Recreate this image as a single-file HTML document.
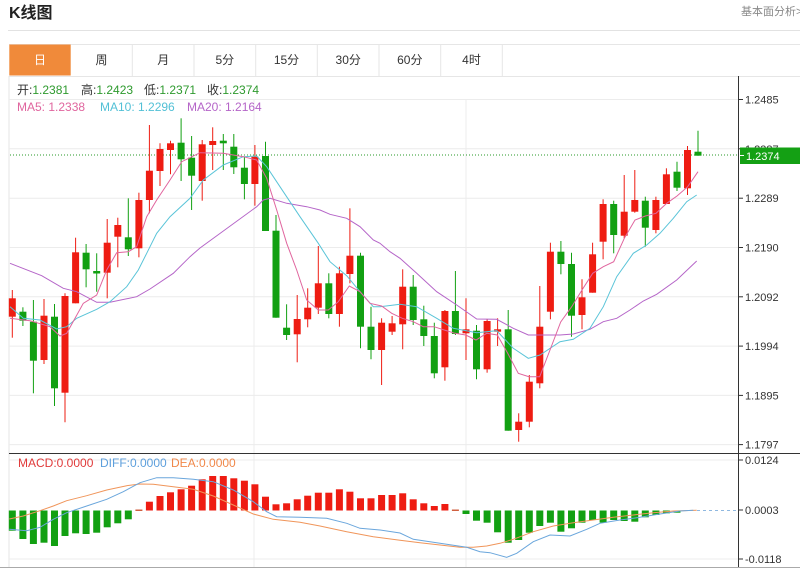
<!DOCTYPE html>
<html>
<head>
<meta charset="utf-8">
<style>
html,body{margin:0;padding:0;background:#fff;}
body{width:800px;height:569px;overflow:hidden;position:relative;font-family:"Liberation Sans","Noto Sans CJK SC",sans-serif;}
svg{position:absolute;left:0;top:0;}
</style>
</head>
<body>
<svg width="800" height="569" viewBox="0 0 800 569" xmlns="http://www.w3.org/2000/svg" font-family="Liberation Sans, Noto Sans CJK SC, sans-serif">
<!-- header -->
<text x="9" y="18" font-size="16" font-weight="bold" fill="#222">K线图</text>
<text x="741" y="15" font-size="11" fill="#888">基本面分析&gt;</text>
<line x1="8" y1="30.5" x2="800" y2="30.5" stroke="#e2e2e2" stroke-width="1"/>
<!-- tabs -->
<line x1="9" y1="44.5" x2="800" y2="44.5" stroke="#e6e6e6"/>
<line x1="9" y1="76.5" x2="800" y2="76.5" stroke="#e6e6e6"/>
<rect x="9.3" y="44.5" width="61.4" height="31" fill="#f08a3a"/>
<g stroke="#e6e6e6">
<line x1="132.3" y1="44.5" x2="132.3" y2="76"/>
<line x1="194" y1="44.5" x2="194" y2="76"/>
<line x1="255.7" y1="44.5" x2="255.7" y2="76"/>
<line x1="317.3" y1="44.5" x2="317.3" y2="76"/>
<line x1="379" y1="44.5" x2="379" y2="76"/>
<line x1="440.7" y1="44.5" x2="440.7" y2="76"/>
<line x1="502.3" y1="44.5" x2="502.3" y2="76"/>
</g>
<g font-size="12" fill="#333" text-anchor="middle">
<text x="40" y="64" fill="#fff">日</text>
<text x="101.5" y="64">周</text>
<text x="163.2" y="64">月</text>
<text x="224.8" y="64">5分</text>
<text x="286.5" y="64">15分</text>
<text x="348.2" y="64">30分</text>
<text x="409.8" y="64">60分</text>
<text x="471.5" y="64">4时</text>
</g>

<!-- main chart grid -->
<line x1="9" y1="76" x2="9" y2="567" stroke="#e4e4e4"/>
<g stroke="#ececec">
<line x1="9" y1="99.5" x2="738" y2="99.5"/>
<line x1="9" y1="148.8" x2="738" y2="148.8"/>
<line x1="9" y1="198.2" x2="738" y2="198.2"/>
<line x1="9" y1="247.5" x2="738" y2="247.5"/>
<line x1="9" y1="296.8" x2="738" y2="296.8"/>
<line x1="9" y1="346.1" x2="738" y2="346.1"/>
<line x1="9" y1="395.4" x2="738" y2="395.4"/>
<line x1="9" y1="444.6" x2="738" y2="444.6"/>
<line x1="9" y1="460" x2="738" y2="460"/>
<line x1="9" y1="559" x2="738" y2="559"/>
<line x1="254" y1="99" x2="254" y2="567"/>
<line x1="466" y1="99" x2="466" y2="567"/>
</g>

<!-- legend -->
<g font-size="12">
<text x="17" y="94" fill="#333">开:<tspan fill="#2e9a2e">1.2381</tspan></text>
<text x="81" y="94" fill="#333">高:<tspan fill="#2e9a2e">1.2423</tspan></text>
<text x="144" y="94" fill="#333">低:<tspan fill="#2e9a2e">1.2371</tspan></text>
<text x="207" y="94" fill="#333">收:<tspan fill="#2e9a2e">1.2374</tspan></text>
<text x="17" y="111" fill="#e0659e">MA5: 1.2338</text>
<text x="100" y="111" fill="#52c0d6">MA10: 1.2296</text>
<text x="187" y="111" fill="#b565c8">MA20: 1.2164</text>
</g>

<!-- current price dotted -->
<line x1="10" y1="155" x2="738" y2="155" stroke="#2a9a2a" stroke-width="1" stroke-dasharray="1,2"/>

<!-- candles -->
<g stroke-width="1">
<g id="c">
<!-- R = red #ee1c12, G = green #12a012 -->
<line x1="12.3" y1="290" x2="12.3" y2="337.7" stroke="#ee1c12"/><rect x="8.8" y="298.3" width="7" height="18.4" fill="#ee1c12"/>
<line x1="22.9" y1="307.3" x2="22.9" y2="326" stroke="#12a012"/><rect x="19.4" y="311.7" width="7" height="9" fill="#12a012"/>
<line x1="33.4" y1="300" x2="33.4" y2="393.3" stroke="#12a012"/><rect x="29.9" y="321.7" width="7" height="39" fill="#12a012"/>
<line x1="44" y1="299" x2="44" y2="364" stroke="#ee1c12"/><rect x="40.5" y="315.7" width="7" height="44.3" fill="#ee1c12"/>
<line x1="54.5" y1="304" x2="54.5" y2="406" stroke="#12a012"/><rect x="51" y="316.7" width="7" height="71.6" fill="#12a012"/>
<line x1="65" y1="293.3" x2="65" y2="422.3" stroke="#ee1c12"/><rect x="61.5" y="296" width="7" height="96.7" fill="#ee1c12"/>
<line x1="75.6" y1="237.7" x2="75.6" y2="303.3" stroke="#ee1c12"/><rect x="72.1" y="252.3" width="7" height="51" fill="#ee1c12"/>
<line x1="86.1" y1="244" x2="86.1" y2="287.3" stroke="#12a012"/><rect x="82.6" y="252.7" width="7" height="16.6" fill="#12a012"/>
<line x1="96.7" y1="253.3" x2="96.7" y2="291.7" stroke="#12a012"/><rect x="93.2" y="271" width="7" height="2.5" fill="#12a012"/>
<line x1="107.2" y1="219" x2="107.2" y2="298.3" stroke="#ee1c12"/><rect x="103.7" y="242.7" width="7" height="30" fill="#ee1c12"/>
<line x1="117.8" y1="217.7" x2="117.8" y2="267.3" stroke="#ee1c12"/><rect x="114.3" y="225" width="7" height="11.7" fill="#ee1c12"/>
<line x1="128.3" y1="198.3" x2="128.3" y2="256" stroke="#12a012"/><rect x="124.8" y="237.3" width="7" height="12" fill="#12a012"/>
<line x1="138.9" y1="192.7" x2="138.9" y2="257.3" stroke="#ee1c12"/><rect x="135.4" y="200" width="7" height="48.3" fill="#ee1c12"/>
<line x1="149.4" y1="125" x2="149.4" y2="213.3" stroke="#ee1c12"/><rect x="145.9" y="170.7" width="7" height="29.3" fill="#ee1c12"/>
<line x1="160" y1="143.3" x2="160" y2="186" stroke="#ee1c12"/><rect x="156.5" y="149" width="7" height="22" fill="#ee1c12"/>
<line x1="170.5" y1="140.7" x2="170.5" y2="174.3" stroke="#ee1c12"/><rect x="167" y="143.3" width="7" height="6.7" fill="#ee1c12"/>
<line x1="181.1" y1="118.3" x2="181.1" y2="181" stroke="#12a012"/><rect x="177.6" y="142.7" width="7" height="16.6" fill="#12a012"/>
<line x1="191.6" y1="136" x2="191.6" y2="210" stroke="#12a012"/><rect x="188.1" y="157.7" width="7" height="18" fill="#12a012"/>
<line x1="202.2" y1="140" x2="202.2" y2="200.7" stroke="#ee1c12"/><rect x="198.7" y="144.3" width="7" height="36.7" fill="#ee1c12"/>
<line x1="212.7" y1="127.3" x2="212.7" y2="170" stroke="#ee1c12"/><rect x="209.2" y="141" width="7" height="4" fill="#ee1c12"/>
<line x1="223.3" y1="134" x2="223.3" y2="170" stroke="#12a012"/><rect x="219.8" y="140.7" width="7" height="2.6" fill="#12a012"/>
<line x1="233.8" y1="134" x2="233.8" y2="174" stroke="#12a012"/><rect x="230.3" y="146.7" width="7" height="20.6" fill="#12a012"/>
<line x1="244.4" y1="156.7" x2="244.4" y2="199.3" stroke="#12a012"/><rect x="240.9" y="167.7" width="7" height="16.3" fill="#12a012"/>
<line x1="254.9" y1="145" x2="254.9" y2="205.7" stroke="#ee1c12"/><rect x="251.4" y="156.7" width="7" height="27.3" fill="#ee1c12"/>
<line x1="265.5" y1="141.7" x2="265.5" y2="231" stroke="#12a012"/><rect x="262" y="156" width="7" height="75" fill="#12a012"/>
<line x1="276" y1="215" x2="276" y2="317.7" stroke="#12a012"/><rect x="272.5" y="230.7" width="7" height="87" fill="#12a012"/>
<line x1="286.6" y1="304.3" x2="286.6" y2="340" stroke="#12a012"/><rect x="283.1" y="327.7" width="7" height="7.3" fill="#12a012"/>
<line x1="297.2" y1="295" x2="297.2" y2="362.3" stroke="#ee1c12"/><rect x="293.7" y="319" width="7" height="15.3" fill="#ee1c12"/>
<line x1="307.7" y1="288.3" x2="307.7" y2="327.3" stroke="#ee1c12"/><rect x="304.2" y="307.7" width="7" height="11.6" fill="#ee1c12"/>
<line x1="318.3" y1="246" x2="318.3" y2="314" stroke="#ee1c12"/><rect x="314.8" y="283.3" width="7" height="24.4" fill="#ee1c12"/>
<line x1="328.8" y1="273.3" x2="328.8" y2="318.3" stroke="#12a012"/><rect x="325.3" y="283.3" width="7" height="30.7" fill="#12a012"/>
<line x1="339.4" y1="266.7" x2="339.4" y2="326.7" stroke="#ee1c12"/><rect x="335.9" y="273.3" width="7" height="40.7" fill="#ee1c12"/>
<line x1="349.9" y1="208.3" x2="349.9" y2="283.3" stroke="#ee1c12"/><rect x="346.4" y="255.7" width="7" height="18.3" fill="#ee1c12"/>
<line x1="360.5" y1="252.7" x2="360.5" y2="348.3" stroke="#12a012"/><rect x="357" y="255.7" width="7" height="71" fill="#12a012"/>
<line x1="371" y1="306.7" x2="371" y2="359.3" stroke="#12a012"/><rect x="367.5" y="326.7" width="7" height="23.3" fill="#12a012"/>
<line x1="381.6" y1="318.3" x2="381.6" y2="385" stroke="#ee1c12"/><rect x="378.1" y="322.7" width="7" height="27.3" fill="#ee1c12"/>
<line x1="392.1" y1="316" x2="392.1" y2="335" stroke="#ee1c12"/><rect x="388.6" y="323.3" width="7" height="8.4" fill="#ee1c12"/>
<line x1="402.7" y1="269.3" x2="402.7" y2="349.3" stroke="#ee1c12"/><rect x="399.2" y="286.7" width="7" height="37.6" fill="#ee1c12"/>
<line x1="413.2" y1="275" x2="413.2" y2="325" stroke="#12a012"/><rect x="409.7" y="286.7" width="7" height="33.3" fill="#12a012"/>
<line x1="423.8" y1="305.7" x2="423.8" y2="346" stroke="#12a012"/><rect x="420.3" y="319.3" width="7" height="16.7" fill="#12a012"/>
<line x1="434.3" y1="322.7" x2="434.3" y2="378.3" stroke="#12a012"/><rect x="430.8" y="336" width="7" height="37.3" fill="#12a012"/>
<line x1="444.9" y1="310" x2="444.9" y2="380.7" stroke="#ee1c12"/><rect x="441.4" y="311" width="7" height="56.3" fill="#ee1c12"/>
<line x1="455.4" y1="271" x2="455.4" y2="335" stroke="#12a012"/><rect x="451.9" y="311" width="7" height="23" fill="#12a012"/>
<line x1="466" y1="298.3" x2="466" y2="360" stroke="#ee1c12"/><rect x="462.5" y="329.3" width="7" height="4" fill="#ee1c12"/>
<line x1="476.5" y1="325" x2="476.5" y2="379.3" stroke="#12a012"/><rect x="473" y="330.7" width="7" height="38.6" fill="#12a012"/>
<line x1="487.1" y1="319.3" x2="487.1" y2="372.7" stroke="#ee1c12"/><rect x="483.6" y="321" width="7" height="48.3" fill="#ee1c12"/>
<line x1="497.6" y1="318.3" x2="497.6" y2="346" stroke="#ee1c12"/><rect x="494.1" y="329.3" width="7" height="2.4" fill="#ee1c12"/>
<line x1="508.2" y1="310" x2="508.2" y2="430.7" stroke="#12a012"/><rect x="504.7" y="329.3" width="7" height="101.4" fill="#12a012"/>
<line x1="518.7" y1="413.3" x2="518.7" y2="441.7" stroke="#ee1c12"/><rect x="515.2" y="421.7" width="7" height="8.3" fill="#ee1c12"/>
<line x1="529.3" y1="375" x2="529.3" y2="427.3" stroke="#ee1c12"/><rect x="525.8" y="381.7" width="7" height="40" fill="#ee1c12"/>
<line x1="539.8" y1="286" x2="539.8" y2="388.3" stroke="#ee1c12"/><rect x="536.3" y="326.7" width="7" height="56.6" fill="#ee1c12"/>
<line x1="550.4" y1="242.7" x2="550.4" y2="319.3" stroke="#ee1c12"/><rect x="546.9" y="251.7" width="7" height="60" fill="#ee1c12"/>
<line x1="560.9" y1="241" x2="560.9" y2="274.3" stroke="#12a012"/><rect x="557.4" y="251.7" width="7" height="12.3" fill="#12a012"/>
<line x1="571.5" y1="252.7" x2="571.5" y2="336.7" stroke="#12a012"/><rect x="568" y="264" width="7" height="51.7" fill="#12a012"/>
<line x1="582" y1="279.3" x2="582" y2="329.3" stroke="#ee1c12"/><rect x="578.5" y="297.3" width="7" height="17.7" fill="#ee1c12"/>
<line x1="592.6" y1="242.7" x2="592.6" y2="292.7" stroke="#ee1c12"/><rect x="589.1" y="254.3" width="7" height="38.4" fill="#ee1c12"/>
<line x1="603.1" y1="199.3" x2="603.1" y2="259.3" stroke="#ee1c12"/><rect x="599.6" y="204" width="7" height="37.7" fill="#ee1c12"/>
<line x1="613.7" y1="200.7" x2="613.7" y2="253.3" stroke="#12a012"/><rect x="610.2" y="204" width="7" height="31" fill="#12a012"/>
<line x1="624.2" y1="175" x2="624.2" y2="238.3" stroke="#ee1c12"/><rect x="620.7" y="211.7" width="7" height="24" fill="#ee1c12"/>
<line x1="634.8" y1="170" x2="634.8" y2="212.7" stroke="#ee1c12"/><rect x="631.3" y="200" width="7" height="11.7" fill="#ee1c12"/>
<line x1="645.3" y1="196.7" x2="645.3" y2="246.7" stroke="#12a012"/><rect x="641.8" y="200.7" width="7" height="27" fill="#12a012"/>
<line x1="655.9" y1="196.7" x2="655.9" y2="233.3" stroke="#ee1c12"/><rect x="652.4" y="200" width="7" height="30" fill="#ee1c12"/>
<line x1="666.4" y1="168.3" x2="666.4" y2="204" stroke="#ee1c12"/><rect x="662.9" y="174.3" width="7" height="29.7" fill="#ee1c12"/>
<line x1="677" y1="161.7" x2="677" y2="191" stroke="#12a012"/><rect x="673.5" y="171.7" width="7" height="16" fill="#12a012"/>
<line x1="687.5" y1="146" x2="687.5" y2="195" stroke="#ee1c12"/><rect x="684" y="150" width="7" height="38.3" fill="#ee1c12"/>
<line x1="698" y1="130.7" x2="698" y2="155.7" stroke="#12a012"/><rect x="694.5" y="151.7" width="7" height="4" fill="#12a012"/>
</g>
</g>

<!-- MA lines -->
<polyline fill="none" stroke="#b565c8" stroke-width="1" points="10,263.3 41.7,275.7 63.3,288.3 76.7,291.7 96.7,302.3 110,302.3 136.7,296.7 150,289 173.3,273.3 190,256.7 200,248 256.7,206.7 263.3,200 270,198.3 286.7,203.3 306.7,206.7 320,210 330,214.3 346.7,218.3 360,226.7 373.3,240 380,243.3 390,251.7 400,258.3 416.7,273.3 436.7,291.7 456.7,305 476.7,319 496.7,319.3 513.3,328.3 528.3,335 540,335 560,335 573.3,334 590,329.3 603.3,321.7 616.7,318.3 630,310 643.3,301 656.7,294.3 676.7,280 696.7,261"/>
<polyline fill="none" stroke="#5ac4d8" stroke-width="1" points="10,306.7 23.3,318.3 40,320 56.7,329 66.7,326.7 76.7,318.3 96.7,309.3 110,301.7 126.7,286.7 138.3,270 146.7,253.3 156.7,233.3 170,216.7 190,198.3 203.3,180 223.3,165 243.3,156.7 256.7,156 266.7,166.7 283.3,191.7 300,216.7 318.3,243.3 330,261.7 346.7,275.7 360,291.7 373.3,306.7 380,306.7 400,304.3 416.7,306.7 436.7,318.3 453.3,328.3 476.7,332.7 496.7,330.7 513.3,348.3 528.3,358.3 540,355 560,341.7 573.3,339.3 590,328.3 603.3,306.7 616.7,276.7 633.3,253.3 646.7,245 660,233.3 673.3,218.3 686.7,201.7 696.7,195"/>
<polyline fill="none" stroke="#e0659e" stroke-width="1" points="10,318.3 30,320.7 50,326.7 60,336 66.7,333.3 83.3,303.3 96.7,295 106.7,270 116.7,252.7 128.3,251.7 136.7,246.7 146.7,216.7 156.7,200 170,180 181.7,161.7 200,152.7 223.3,153.3 243.3,156.7 256.7,160 266.7,178.3 276.7,210 286.7,243.3 296.7,270 306.7,300 318.3,310 328.3,310 338.3,301.7 349.3,286 360,291.7 370,303.3 381.6,306 391.7,313.3 402.3,318.3 413.3,321.7 423.3,326.7 434,326.7 444.3,330 455,333.3 465.7,335 476,340 486.7,333.3 497.3,335 507.7,353.3 518.3,373.3 529,376.7 539.7,376.7 550,350 560.7,322 571.7,306.7 582,290 592.7,273.3 603.3,266.7 613.7,261.7 624.3,238.3 635,220 645.3,216 656,213.3 666.7,203.3 677,196 687.7,186.7 698,171.7"/>

<!-- MACD panel -->
<line x1="9" y1="453.5" x2="800" y2="453.5" stroke="#333" stroke-width="1"/>
<line x1="0" y1="567.5" x2="800" y2="567.5" stroke="#aaa" stroke-width="1"/>
<line x1="697" y1="510.5" x2="738" y2="510.5" stroke="#8fb8e0" stroke-width="1" stroke-dasharray="3,3"/>
<g fill="#12a012">
<rect x="8.8" y="510.5" width="7" height="20.2"/>
<rect x="19.4" y="510.5" width="7" height="28.5"/>
<rect x="29.9" y="510.5" width="7" height="33.5"/>
<rect x="40.5" y="510.5" width="7" height="32.2"/>
<rect x="51" y="510.5" width="7" height="35.5"/>
<rect x="61.5" y="510.5" width="7" height="25.5"/>
<rect x="72.1" y="510.5" width="7" height="22.8"/>
<rect x="82.6" y="510.5" width="7" height="23.5"/>
<rect x="93.2" y="510.5" width="7" height="22.2"/>
<rect x="103.7" y="510.5" width="7" height="16.8"/>
<rect x="114.3" y="510.5" width="7" height="12.8"/>
<rect x="124.8" y="510.5" width="7" height="8.8"/>
<rect x="462.5" y="510.5" width="7" height="3.5"/>
<rect x="473" y="510.5" width="7" height="10.2"/>
<rect x="483.6" y="510.5" width="7" height="12.2"/>
<rect x="494.1" y="510.5" width="7" height="21.8"/>
<rect x="504.7" y="510.5" width="7" height="32.2"/>
<rect x="515.2" y="510.5" width="7" height="29.5"/>
<rect x="525.8" y="510.5" width="7" height="22.2"/>
<rect x="536.3" y="510.5" width="7" height="15.5"/>
<rect x="546.9" y="510.5" width="7" height="12.2"/>
<rect x="557.4" y="510.5" width="7" height="21.2"/>
<rect x="568" y="510.5" width="7" height="17.8"/>
<rect x="578.5" y="510.5" width="7" height="12.2"/>
<rect x="589.1" y="510.5" width="7" height="9.5"/>
<rect x="599.6" y="510.5" width="7" height="12.2"/>
<rect x="610.2" y="510.5" width="7" height="9.5"/>
<rect x="620.7" y="510.5" width="7" height="10.5"/>
<rect x="631.3" y="510.5" width="7" height="11.2"/>
<rect x="641.8" y="510.5" width="7" height="6.8"/>
<rect x="652.4" y="510.5" width="7" height="4.5"/>
<rect x="662.9" y="510.5" width="7" height="2.8"/>
<rect x="673.5" y="510.5" width="7" height="2.2"/>
</g>
<g fill="#ee1c12">
<rect x="135.4" y="509.5" width="7" height="1.5" fill="#d06040"/>
<rect x="145.9" y="501.7" width="7" height="8.8"/>
<rect x="156.5" y="496" width="7" height="14.5"/>
<rect x="167" y="492.3" width="7" height="18.2"/>
<rect x="177.6" y="489.3" width="7" height="21.2"/>
<rect x="188.1" y="485.7" width="7" height="24.8"/>
<rect x="198.7" y="479.3" width="7" height="31.2"/>
<rect x="209.2" y="476" width="7" height="34.5"/>
<rect x="219.8" y="476" width="7" height="34.5"/>
<rect x="230.3" y="478.3" width="7" height="32.2"/>
<rect x="240.9" y="480.7" width="7" height="29.8"/>
<rect x="251.4" y="484.3" width="7" height="26.2"/>
<rect x="262" y="496.7" width="7" height="13.8"/>
<rect x="272.5" y="504.3" width="7" height="6.2"/>
<rect x="283.1" y="503.3" width="7" height="7.2"/>
<rect x="293.7" y="499.3" width="7" height="11.2"/>
<rect x="304.2" y="495.7" width="7" height="14.8"/>
<rect x="314.8" y="492.7" width="7" height="17.8"/>
<rect x="325.3" y="492.7" width="7" height="17.8"/>
<rect x="335.9" y="489.3" width="7" height="21.2"/>
<rect x="346.4" y="491.7" width="7" height="18.8"/>
<rect x="357" y="498.3" width="7" height="12.2"/>
<rect x="367.5" y="498.3" width="7" height="12.2"/>
<rect x="378.1" y="495" width="7" height="15.5"/>
<rect x="388.6" y="495" width="7" height="15.5"/>
<rect x="399.2" y="493.3" width="7" height="17.2"/>
<rect x="409.7" y="499.3" width="7" height="11.2"/>
<rect x="420.3" y="503.3" width="7" height="7.2"/>
<rect x="430.8" y="506" width="7" height="4.5"/>
<rect x="441.4" y="504" width="7" height="6.5"/>
<rect x="451.9" y="509.5" width="7" height="1.5" fill="#d06040"/>
</g>
<polyline fill="none" stroke="#f0955a" stroke-width="1" points="9.3,519 23.3,516 40,510.7 53.3,506 66.7,500.7 86.7,495.7 106.7,490 126.7,485.7 140,484 153.3,484.3 173.3,486.7 193.3,489.3 213.3,496 233.3,505 253.3,514 273.3,519.3 300,522.3 320,526 346.7,531.7 373.3,536.7 400,540.3 420,542.7 440,545 460,547.3 473.3,547.3 486.7,546 500,543.3 513.3,539.3 533.3,531.7 553.3,526 573.3,522.7 593.3,520 613.3,517.3 633.3,515 653.3,512.7 673.3,511 696.7,510.3"/>
<polyline fill="none" stroke="#6aa6dc" stroke-width="1" points="9.3,529.3 26.7,530.7 40,527.3 53.3,519.3 66.7,512.7 86.7,506 106.7,499.3 123.3,491.7 140,482.7 156.7,477.7 173.3,477.7 193.3,479.3 213.3,481.7 233.3,490 253.3,501.7 266.7,511.7 276.7,516.7 300,517.3 326.7,518.3 346.7,523.3 360,528.3 380,530 400,533 413.3,539.3 440,543.3 466.7,547.3 480,551.7 490,552.7 506.7,557.3 516.7,553.3 533.3,541.7 550,535 570,536 586.7,529.3 600,523.3 620,520 640,517.3 660,514 680,511 693.3,510.3"/>
<g font-size="12">
<text x="18" y="467" fill="#e03a3a">MACD:0.0000</text>
<text x="100" y="467" fill="#5d9fdc">DIFF:0.0000</text>
<text x="171" y="467" fill="#f0884a">DEA:0.0000</text>
</g>

<!-- right axis -->
<line x1="738.5" y1="76" x2="738.5" y2="567" stroke="#333" stroke-width="1"/>
<g stroke="#333">
<line x1="739" y1="99.5" x2="743" y2="99.5"/>
<line x1="739" y1="148.8" x2="743" y2="148.8"/>
<line x1="739" y1="198.2" x2="743" y2="198.2"/>
<line x1="739" y1="247.5" x2="743" y2="247.5"/>
<line x1="739" y1="296.8" x2="743" y2="296.8"/>
<line x1="739" y1="346.1" x2="743" y2="346.1"/>
<line x1="739" y1="395.4" x2="743" y2="395.4"/>
<line x1="739" y1="444.6" x2="743" y2="444.6"/>
<line x1="739" y1="460" x2="743" y2="460"/>
<line x1="739" y1="510" x2="743" y2="510"/>
<line x1="739" y1="559" x2="743" y2="559"/>
</g>
<g font-size="11" fill="#333">
<text x="745" y="103.5">1.2485</text>
<text x="745" y="152.8">1.2387</text>
<text x="745" y="202.2">1.2289</text>
<text x="745" y="251.5">1.2190</text>
<text x="745" y="300.8">1.2092</text>
<text x="745" y="350.1">1.1994</text>
<text x="745" y="399.4">1.1895</text>
<text x="745" y="448.6">1.1797</text>
<text x="745" y="464">0.0124</text>
<text x="745" y="514">0.0003</text>
<text x="745" y="563">-0.0118</text>
</g>
<rect x="740" y="147.5" width="60" height="16.5" fill="#14a014"/>
<line x1="740" y1="155.5" x2="744" y2="155.5" stroke="#fff"/>
<text x="746" y="160" font-size="11" fill="#fff">1.2374</text>
</svg>
</body>
</html>
